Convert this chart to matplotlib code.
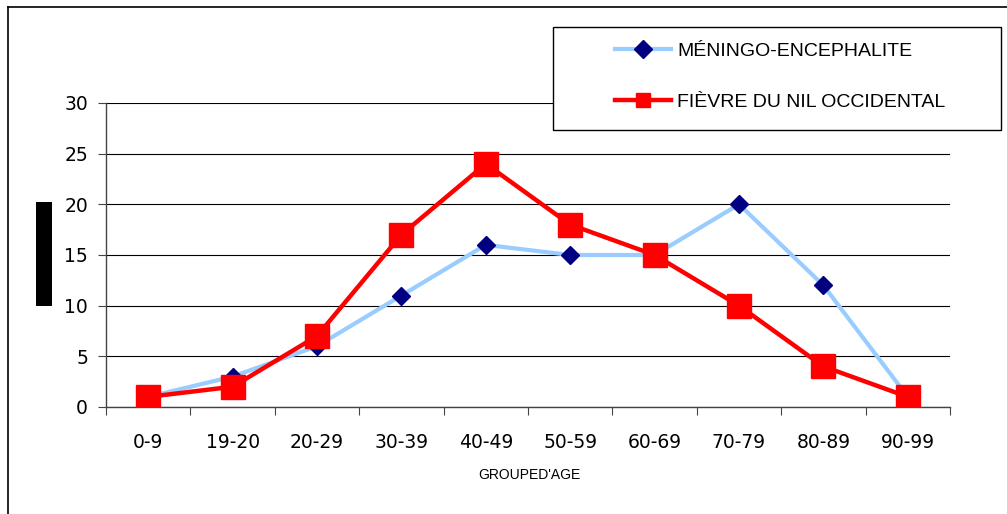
import numpy as np
import matplotlib.pyplot as plt
from matplotlib.lines import Line2D
from matplotlib.patches import Rectangle

plt.rcParams['font.family'] = ['Liberation Sans', 'DejaVu Sans']

age_groups = ["0-9", "19-20", "20-29", "30-39", "40-49",
              "50-59", "60-69", "70-79", "80-89", "90-99"]
meningo = [1, 3, 6, 11, 16, 15, 15, 20, 12, 1]
fievre = [1, 2, 7, 17, 24, 18, 15, 10, 4, 1]
y_ticks = [0, 5, 10, 15, 20, 25, 30]

W, H = 1007, 514
fig = plt.figure(figsize=(W / 100, H / 100), dpi=100)
fig.patch.set_facecolor("white")

# axes placed in pixel terms
ax = fig.add_axes([106 / W, 1 - 407 / H, (950 - 106) / W, (407 - 103) / H])
x = np.arange(len(age_groups))

ax.plot(x, meningo, color="#99CCFF", linewidth=3, marker="D",
        markersize=9, markerfacecolor="#000080", markeredgecolor="#000080",
        zorder=4, label="MÉNINGO-ENCEPHALITE")
ax.plot(x, fievre, color="#FF0000", linewidth=3.2, marker="s",
        markersize=17.5, markerfacecolor="#FF0000", markeredgecolor="#FF0000",
        zorder=5, label="FIÈVRE DU NIL OCCIDENTAL")

tick_font = dict(family="DejaVu Sans", size=13.5)

ax.set_xlim(-0.5, len(age_groups) - 0.5)
ax.set_ylim(0, 30)
ax.set_yticks(y_ticks)
ax.set_yticklabels([str(v) for v in y_ticks], fontdict=tick_font)
ax.yaxis.grid(True, color="black", linewidth=0.8)
ax.set_axisbelow(True)

# boundary ticks (major, no labels) + centred labels (minor)
ax.set_xticks(np.arange(-0.5, len(age_groups), 1.0))
ax.set_xticklabels([])
ax.set_xticks(x, minor=True)
ax.set_xticklabels(age_groups, minor=True, fontdict=tick_font)
ax.tick_params(axis="x", which="minor", length=0, pad=19)
ax.tick_params(axis="x", which="major", length=6, width=0.8, color="#444444")
ax.tick_params(axis="y", length=6, width=0.8, pad=7, color="#444444")

for side in ["top", "right"]:
    ax.spines[side].set_visible(False)
for side in ["left", "bottom"]:
    ax.spines[side].set_color("#444444")
    ax.spines[side].set_linewidth(1.0)

fig.text(529 / W, 1 - 475 / H, "GROUPED'AGE", ha="center", va="center",
         fontsize=10)

# redacted y-axis title block
fig.patches.append(Rectangle((36 / W, 1 - 306 / H), 16 / W, 104 / H,
                             transform=fig.transFigure, facecolor="black",
                             edgecolor="none"))

# outer chart border (cut by the image edge on right/bottom)
fig.add_artist(Line2D([8 / W, 8 / W], [0, 1 - 7 / H], color="black", linewidth=1.2,
                      transform=fig.transFigure))
fig.add_artist(Line2D([8 / W, 1], [1 - 7 / H, 1 - 7 / H], color="black",
                      linewidth=1.2, transform=fig.transFigure))

# legend frame
fig.patches.append(Rectangle((553 / W, 1 - 130 / H), (1001 - 553) / W, 103 / H,
                             transform=fig.transFigure, facecolor="white",
                             edgecolor="black", linewidth=1.0))
leg = fig.legend(loc="upper left", bbox_to_anchor=(615 / W, 1 - 42 / H),
                 frameon=False, fontsize=14, labelspacing=1.75,
                 handlelength=2.9, handletextpad=0.3, borderpad=0,
                 borderaxespad=0)
leg.legend_handles[0].set_markersize(9)
leg.legend_handles[1].set_markersize(10.5)

fig.savefig("out.png", dpi=100, facecolor=fig.get_facecolor())
